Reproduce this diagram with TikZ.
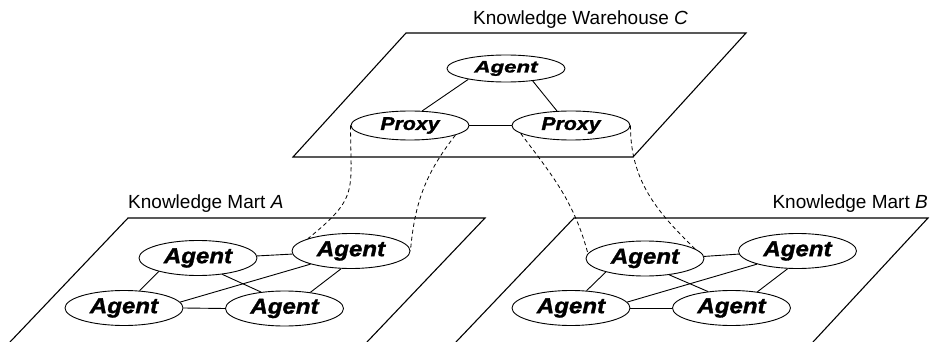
\documentclass[tikz,border=0pt]{standalone}
\usepackage{fontspec}
\setmainfont{Liberation Sans}
\newfontfamily\peerfont[BoldItalicFeatures={FakeBold=1.3}]{Liberation Sans}
\usetikzlibrary{shapes.geometric}

% Labels inside the ellipses: heavy, slanted and slightly widened
\newcommand\peerlabel[3]{\scalebox{#1}[1]{\peerfont\fontsize{#2}{#2}\selectfont\bfseries\itshape #3}}

\begin{document}
\begin{tikzpicture}[x=1pt,y=1pt,
  plane/.style={line width=1.1pt, line join=miter},
  peer/.style={ellipse, draw, line width=0.9pt, fill=white,
               minimum width=118pt, minimum height=35pt, inner sep=0pt},
  link/.style={line width=0.9pt},
  bridge/.style={line width=0.8pt, dash pattern=on 4pt off 3pt},
  title/.style={inner sep=0pt, font=\fontsize{19}{19}\selectfont}]
\useasboundingbox (0,0) rectangle (935,-342);

% ---- planes ----
\draw[plane] (406,-33) -- (746,-33) -- (633,-157) -- (293,-157) -- cycle;
\draw[plane] (10,-342) -- (128,-218) -- (485,-218) -- (367,-342);
\draw[plane] (456,-342) -- (574,-218) -- (928,-218) -- (813,-342);

% ---- titles ----
\node[title, anchor=base west] (tC) at (473,-25) {Knowledge Warehouse \textit{C}};
\node[title, anchor=base west] (tA) at (128,-208) {Knowledge Mart \textit{A}};
\node[title, anchor=base east] (tB) at (928,-208) {Knowledge Mart \textit{B}};

% ---- warehouse C ----
\node[peer, minimum height=27pt] (TA) at (506,-68.5) {\peerlabel{1.35}{16.5}{Agent}};
\node[peer, minimum height=29pt] (LP) at (410,-125.5) {\peerlabel{1.15}{18.5}{Proxy}};
\node[peer, minimum height=29pt] (RP) at (571,-125.5) {\peerlabel{1.15}{18.5}{Proxy}};
\draw[link] (TA.196) -- (LP.50);
\draw[link] (TA.335) -- (RP.134);
\draw[link] (LP.east) -- (RP.west);

% ---- mart A ----
\node[peer] (A1) at (198,-258) {\peerlabel{1.12}{21.5}{Agent}};
\node[peer] (A2) at (351,-251) {\peerlabel{1.12}{21.5}{Agent}};
\node[peer] (A3) at (124,-308) {\peerlabel{1.12}{21.5}{Agent}};
\node[peer] (A4) at (284.5,-308.5) {\peerlabel{1.12}{21.5}{Agent}};
\draw[link] (A1.2) -- (A2.183);
\draw[link] (A1.199) -- (A3.48);
\draw[link] (A1.326) -- (A4.145);
\draw[link] (A2.198) -- (A3.6);
\draw[link] (A2.241) -- (A4.32);
\draw[link] (A3.east) -- (A4.west);

% ---- mart B ----
\node[peer] (B1) at (645,-258.5) {\peerlabel{1.12}{21.5}{Agent}};
\node[peer] (B2) at (797.5,-251) {\peerlabel{1.12}{21.5}{Agent}};
\node[peer] (B3) at (571,-308) {\peerlabel{1.12}{21.5}{Agent}};
\node[peer] (B4) at (731.5,-308) {\peerlabel{1.12}{21.5}{Agent}};
\draw[link] (B1.2) -- (B2.183);
\draw[link] (B1.199) -- (B3.48);
\draw[link] (B1.326) -- (B4.145);
\draw[link] (B2.198) -- (B3.6);
\draw[link] (B2.241) -- (B4.32);
\draw[link] (B3.east) -- (B4.west);

% ---- proxy bridges ----
\draw[bridge] (LP.west) to[out=-90, in=39, looseness=1.4] (A2.164);
\draw[bridge] (LP.348) to[out=232, in=85] (A2.east);
\draw[bridge] (RP.189) to[out=-53, in=105] (B1.175);
\draw[bridge] (RP.east) to[out=-90, in=136] (B1.11);
\end{tikzpicture}
\end{document}
